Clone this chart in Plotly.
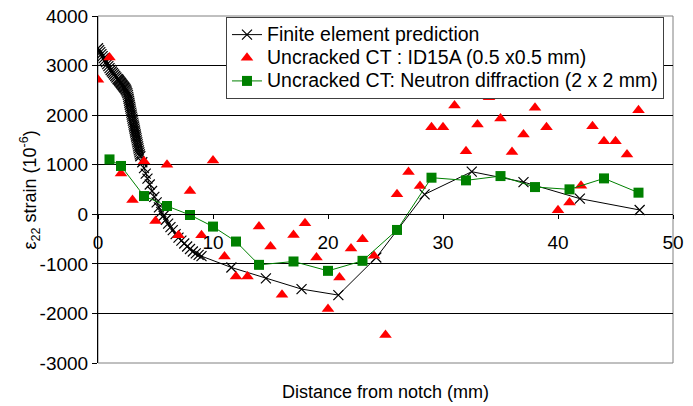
import plotly.graph_objects as go

# Finite element prediction (distance mm, strain 1e-6)
fe_x = [0.0, 0.1, 0.2, 0.3, 0.4, 0.5, 0.6, 0.7, 0.8, 0.9, 1.0, 1.1, 1.2, 1.3, 1.4, 1.5, 1.6, 1.7,
        1.75, 1.8, 1.85, 1.9, 1.95, 2.0, 2.05, 2.1, 2.15, 2.2, 2.25, 2.3, 2.35, 2.4, 2.45, 2.5, 2.55, 2.6,
        2.63, 2.66, 2.7, 2.73, 2.76, 2.8, 2.83, 2.86, 2.9, 2.93, 2.96, 3.0, 3.03, 3.07, 3.1, 3.14, 3.17,
        3.21, 3.24, 3.28, 3.31, 3.35, 3.38, 3.42, 3.45, 3.49, 3.52, 3.56, 3.6, 3.64, 3.68,
        3.85, 4.0, 4.15, 4.3, 4.5, 4.7, 4.9, 5.1, 5.3, 5.5, 5.7, 5.9, 6.1, 6.3, 6.5, 6.75, 7.0, 7.25,
        7.5, 7.75, 8.0, 8.25, 8.5, 8.75, 9.0,
        11.6, 14.6, 17.7, 20.9, 24.2, 28.4, 32.5, 37.0, 41.9, 47.1]
fe_y = [3350, 3310, 3270, 3230, 3190, 3150, 3110, 3070, 3030, 2990, 2950, 2910, 2880, 2850, 2820, 2790, 2760, 2730,
        2720, 2705, 2690, 2675, 2660, 2645, 2630, 2615, 2600, 2585, 2570, 2555, 2540, 2520, 2500, 2475, 2445, 2410,
        2370, 2330, 2290, 2250, 2210, 2170, 2130, 2090, 2050, 2010, 1970, 1930, 1890, 1850, 1810, 1770, 1730,
        1690, 1650, 1610, 1570, 1530, 1490, 1450, 1410, 1370, 1330, 1290, 1250, 1210, 1170,
        1050, 930, 820, 720, 600, 470, 350, 240, 140, 50, -30, -110, -190, -260, -320, -400, -470, -530,
        -590, -650, -700, -750, -790, -820, -845,
        -1073, -1294, -1509, -1630, -872, 402, 859, 650, 316, 87]

# Uncracked CT : ID15A (0.5 x0.5 mm)
id15a_x = [0, 1, 2, 3, 4, 5, 6, 7, 8, 9, 10, 11, 12, 13, 14, 15, 16, 17, 18, 19, 20, 21, 22, 23,
           24, 25, 26, 27, 28, 29, 30, 31, 32, 33, 34, 35, 36, 37, 38, 39, 40, 41, 42, 43, 44, 45, 46, 47]
id15a_y = [2716, 3165, 825, 288, 1070, -135, 1000, -422, 470, -422, 1086, -852, -1254, -1254, -248, -650,
           -1623, -416, -181, -872, -1911, -1274, -690, -503, -838, -2434, 402, 852, 570, 1757, 1757, 2193,
           1274, 1811, 2360, 1931, 1254, 1610, 2147, 1757, 80, 240, 577, 1777, 1475, 1475, 1207, 2099]

# Uncracked CT: Neutron diffraction (2 x 2 mm)
nd_x = [1, 2, 4, 6, 8, 10, 12, 14, 17, 20, 23, 26, 29, 32, 35, 38, 41, 44, 47]
nd_y = [1107, 975, 368, 167, -14, -248, -550, -1020, -952, -1141, -939, -316, 738, 684, 771, 549, 503, 724, 436]

x_ticks = [0, 10, 20, 30, 40, 50]
x_labels = ["0", "10", "20", "30", "40", "50"]
y_ticks = [-3000, -2000, -1000, 0, 1000, 2000, 3000, 4000]
y_labels = ["-3000", "-2000", "-1000", "0", "1000", "2000", "3000", "4000"]

FONT = "Liberation Sans, Arial, sans-serif"


def big(s):
    return '<span style="font-size:19.5px">' + s + '</span>'


fig = go.Figure()
fig.add_trace(go.Scatter(
    x=fe_x, y=fe_y, mode="lines+markers", name=big("Finite element prediction"),
    line=dict(color="black", width=1),
    marker=dict(symbol="x-thin", size=10, color="black", line=dict(width=1.2, color="black")),
))
fig.add_trace(go.Scatter(
    x=id15a_x, y=id15a_y, mode="markers", name=big("Uncracked CT : ID15A (0.5 x0.5 mm)"),
    marker=dict(symbol="triangle-up", size=11, color="#FF0000", line=dict(width=0)),
))
fig.add_trace(go.Scatter(
    x=nd_x, y=nd_y, mode="lines+markers", name=big("Uncracked CT: Neutron diffraction (2 x 2 mm)"),
    line=dict(color="#008000", width=1),
    marker=dict(symbol="square", size=10, color="#008000", line=dict(width=0)),
))

fig.update_layout(
    width=693, height=406,
    margin=dict(l=98, r=20, t=16, b=43, autoexpand=False),
    paper_bgcolor="white", plot_bgcolor="white",
    font=dict(family=FONT, size=18, color="black"),
    showlegend=True,
    legend=dict(x=0.2226, y=0.997, xanchor="left", yanchor="top",
                bgcolor="white", bordercolor="#404040", borderwidth=1,
                font=dict(family=FONT, size=15.5, color="black"),
                tracegroupgap=0, itemwidth=30),
    xaxis=dict(range=[0, 50], anchor="free", position=3 / 7, automargin=False,
               showline=True, linecolor="black", linewidth=1,
               ticks="outside", ticklen=4, tickcolor="black",
               tickvals=x_ticks, ticktext=x_labels, ticklabelstandoff=7,
               showgrid=False, zeroline=False,
               tickfont=dict(family=FONT, size=19, color="black")),
    yaxis=dict(range=[-3000, 4000], automargin=False,
               showline=True, linecolor="black", linewidth=1,
               ticks="outside", ticklen=5, tickcolor="black",
               tickvals=y_ticks, ticktext=y_labels,
               showgrid=True, gridcolor="black", gridwidth=1, zeroline=False,
               tickfont=dict(family=FONT, size=19, color="black")),
    shapes=[dict(type="rect", xref="paper", yref="paper", x0=0, x1=1, y0=0, y1=1,
                 line=dict(color="#808080", width=1), layer="below")],
    annotations=[
        dict(text="Distance from notch (mm)", xref="paper", yref="paper",
             x=0.5, y=-0.0836, xanchor="center", yanchor="middle", showarrow=False,
             font=dict(family=FONT, size=18, color="black")),
        dict(text="ε<sub>22</sub> strain (10<sup>-6</sup>)", xref="paper", yref="paper",
             x=-0.1183, y=0.5, xanchor="center", yanchor="middle", textangle=-90,
             showarrow=False, font=dict(family=FONT, size=18, color="black")),
    ],
)

fig.write_html("out.html", config={"displayModeBar": False},
               post_script="document.body.style.margin='0';")
